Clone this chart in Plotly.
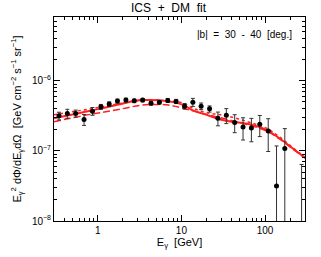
import plotly.graph_objects as go

# measured spectrum, |b| = 30-40 deg
energy = [0.344, 0.433, 0.545, 0.686, 0.864, 1.09, 1.37, 1.72, 2.17, 2.73,
          3.44, 4.33, 5.45, 6.86, 8.64, 10.9, 13.7, 17.2, 21.7, 27.3,
          34.4, 43.3, 54.5, 68.6, 86.4, 109, 137, 172, 273]
flux = [3.16e-7, 3.42e-7, 3.42e-7, 2.81e-7, 3.69e-7, 4.25e-7, 4.65e-7, 5.13e-7,
        5.30e-7, 5.18e-7, 5.30e-7, 4.80e-7, 4.96e-7, 5.25e-7, 5.08e-7, 4.35e-7,
        4.96e-7, 4.35e-7, 3.98e-7, 2.93e-7, 3.23e-7, 2.55e-7, 2.20e-7, 2.13e-7,
        2.40e-7, 1.93e-7, 3.16e-8, 1.08e-7, 5.0e-9]
flux_err = [0.40e-7, 0.50e-7, 0.40e-7, 0.50e-7, 0.47e-7, 0.35e-7, 0.35e-7, 0.35e-7,
            0.35e-7, 0.30e-7, 0.30e-7, 0.30e-7, 0.30e-7, 0.35e-7, 0.35e-7, 0.40e-7,
            0.65e-7, 0.47e-7, 0.40e-7, 0.65e-7, 0.78e-7, 0.73e-7, 0.77e-7, 0.78e-7,
            0.80e-7, 0.95e-7, 0.86e-7, 1.00e-7, 0.59e-7]

# model curves
e_solid = [0.3, 0.65, 1.12, 1.95, 3.4, 6.7, 10.4, 13.7, 20, 30, 72, 105, 150, 215, 300]
f_solid = [2.93e-7, 3.54e-7, 4.04e-7, 4.72e-7, 5.30e-7, 5.13e-7, 4.54e-7, 3.78e-7,
           3.27e-7, 2.79e-7, 2.33e-7, 1.98e-7, 1.50e-7, 1.08e-7, 8.0e-8]

e_dash = [0.3, 0.65, 1.12, 1.95, 3.4, 6.7, 10.4, 16.7, 33, 72, 105, 150, 215, 300]
f_dash = [2.61e-7, 3.16e-7, 3.54e-7, 3.99e-7, 4.50e-7, 4.54e-7, 4.07e-7, 3.49e-7,
          2.87e-7, 2.25e-7, 1.91e-7, 1.47e-7, 1.06e-7, 7.9e-8]

e_dot = [0.3, 0.65, 1.12, 1.95, 3.4, 6.7, 10.4, 13.7, 20.2, 33, 72, 105, 150, 215, 300]
f_dot = [3.29e-7, 3.81e-7, 4.25e-7, 4.80e-7, 5.30e-7, 5.21e-7, 4.80e-7, 4.07e-7,
         3.49e-7, 3.21e-7, 2.46e-7, 2.09e-7, 1.57e-7, 1.11e-7, 8.1e-8]

red = '#ff2020'
font = 'Liberation Sans'
sp = '\u00a0'  # wide spacing like the IDL font

fig = go.Figure()
fig.add_trace(go.Scatter(x=e_dot, y=f_dot, mode='lines', line_shape='spline',
                         line=dict(color=red, width=1.5, dash='dot')))
fig.add_trace(go.Scatter(x=e_dash, y=f_dash, mode='lines', line_shape='spline',
                         line=dict(color=red, width=1.5, dash='7px,3px')))
fig.add_trace(go.Scatter(x=e_solid, y=f_solid, mode='lines', line_shape='spline',
                         line=dict(color=red, width=2)))
fig.add_trace(go.Scatter(x=energy, y=flux, mode='markers',
                         marker=dict(color='black', size=5),
                         error_y=dict(type='data', array=flux_err, color='#333333',
                                      thickness=1, width=2)))

axis_common = dict(type='log', showgrid=False, zeroline=False, showline=True,
                   linecolor='black', linewidth=1, mirror='allticks',
                   ticks='inside', ticklen=6, tickcolor='black',
                   tickfont=dict(family=font, size=10, color='black'))

fig.update_xaxes(range=[-0.523, 2.477], tickvals=[1, 10, 100],
                 ticktext=['1', '10', '100'],
                 minor=dict(ticks='inside', ticklen=3, tickcolor='black',
                            tickvals=[0.3, 0.4, 0.5, 0.6, 0.7, 0.8, 0.9,
                                      2, 3, 4, 5, 6, 7, 8, 9,
                                      20, 30, 40, 50, 60, 70, 80, 90, 200, 300]),
                 title=dict(text='E<sub>γ</sub> ' + sp + '[GeV]', standoff=2,
                            font=dict(family=font, size=11, color='black')),
                 **axis_common)
fig.update_yaxes(range=[-8, -5.09], tickvals=[1e-8, 1e-7, 1e-6],
                 ticktext=['10<sup>−8</sup>', '10<sup>−7</sup>', '10<sup>−6</sup>'],
                 minor=dict(ticks='inside', ticklen=3, tickcolor='black',
                            tickvals=[2e-8, 3e-8, 4e-8, 5e-8, 6e-8, 7e-8, 8e-8, 9e-8,
                                      2e-7, 3e-7, 4e-7, 5e-7, 6e-7, 7e-7, 8e-7, 9e-7,
                                      2e-6, 3e-6, 4e-6, 5e-6, 6e-6, 7e-6]),
                 title=dict(text='E<sub>γ</sub><sup>2</sup> dΦ/dE<sub>γ</sub>dΩ ' + sp +
                                 '[GeV cm<sup>−2</sup> s<sup>−1</sup> sr<sup>−1</sup>]',
                            standoff=8, font=dict(family=font, size=11, color='black')),
                 **axis_common)

fig.update_layout(
    width=321, height=257,
    margin=dict(l=54, r=16, t=17, b=36),
    paper_bgcolor='white', plot_bgcolor='white',
    showlegend=False,
    annotations=[
        dict(text='ICS' + sp + ' +' + sp + ' DM' + sp + ' fit', xref='paper', yref='paper',
             x=0.46, y=1.0, xanchor='center', yanchor='bottom', showarrow=False, yshift=0,
             font=dict(family=font, size=12, color='black')),
        dict(text='|b|' + sp + ' =' + sp + ' 30' + sp + ' -' + sp + ' 40' + sp + ' [deg.]',
             xref='paper', yref='paper', x=0.955, y=0.915,
             xanchor='right', yanchor='middle', showarrow=False,
             font=dict(family=font, size=10, color='black')),
    ],
)

fig.write_html("out.html", config={'displayModeBar': False},
               post_script="document.body.style.margin='0';")
